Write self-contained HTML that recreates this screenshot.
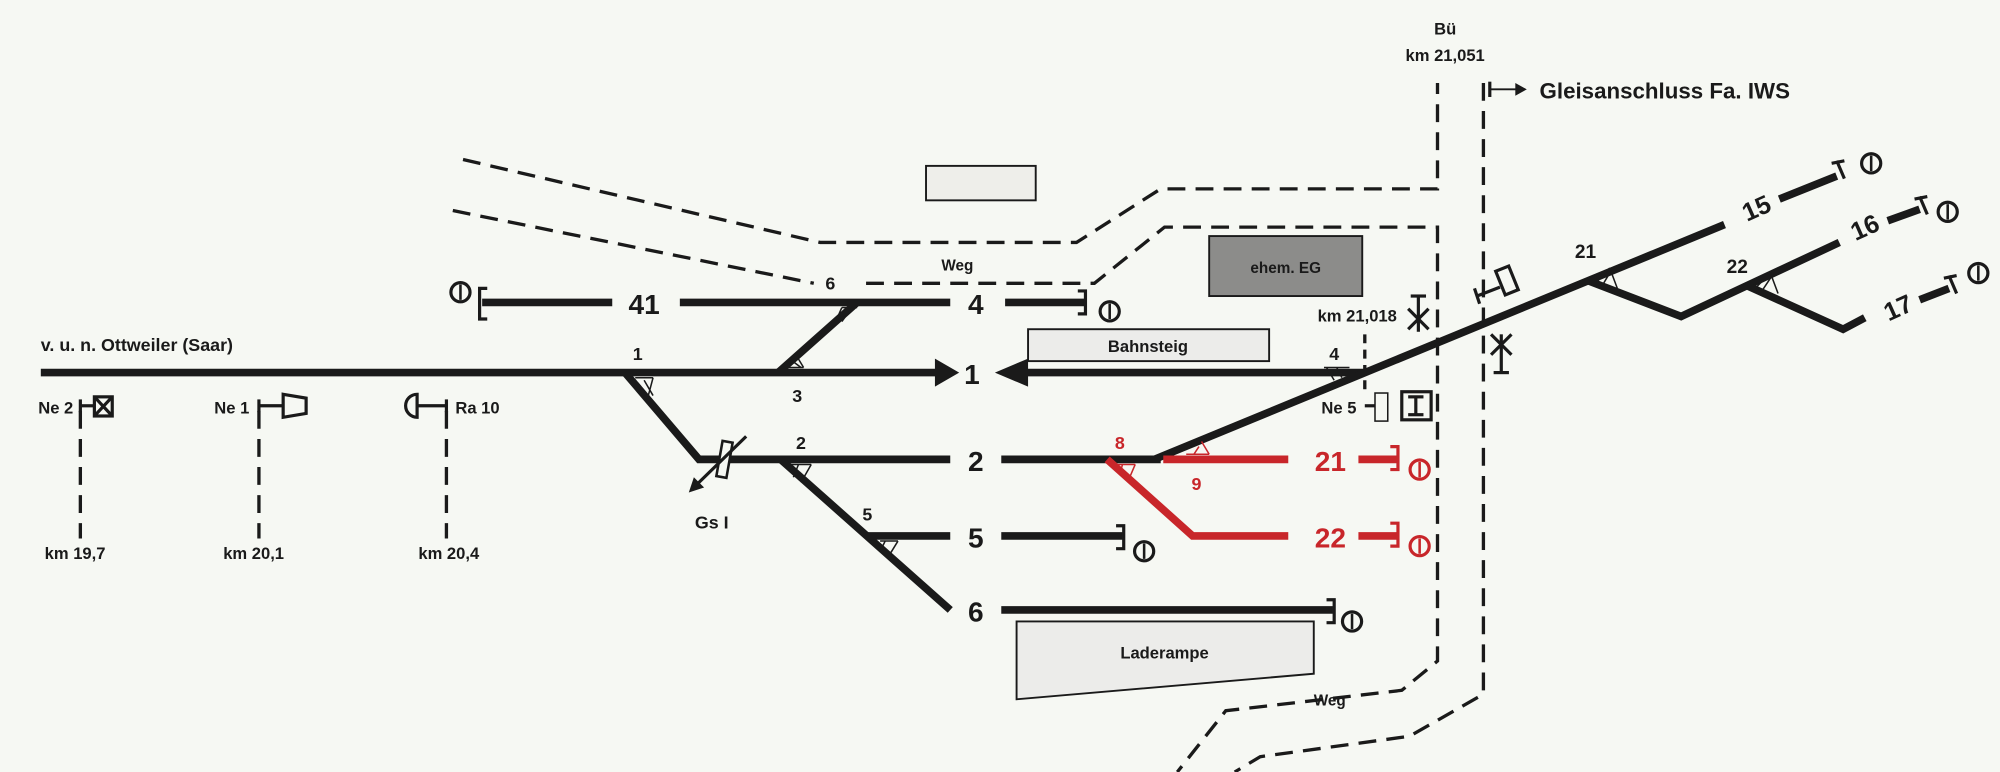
<!DOCTYPE html>
<html><head><meta charset="utf-8"><style>
html,body{margin:0;padding:0;background:#f6f8f3;}
svg{display:block}
text{font-family:"Liberation Sans Narrow","Liberation Sans",sans-serif;font-weight:bold;fill:#1a1a1a}
</style></head><body>
<svg width="2000" height="772" viewBox="0 0 1568 605" preserveAspectRatio="none" xmlns="http://www.w3.org/2000/svg">
<rect width="1568" height="605" fill="#f6f8f3"/>
<defs>
<g id="sig"><circle cx="0" cy="0" r="7.5" fill="none" stroke="#1a1a1a" stroke-width="2.5"/><line x1="0" y1="-6" x2="0" y2="6" stroke="#1a1a1a" stroke-width="2"/></g>
<g id="sigr"><circle cx="0" cy="0" r="7.5" fill="none" stroke="#c8262a" stroke-width="2.5"/><line x1="0" y1="-6" x2="0" y2="6" stroke="#c8262a" stroke-width="2"/></g>
</defs>
<g fill="none" stroke="#1a1a1a" stroke-width="2.6" stroke-dasharray="14,8">
<polyline points="363,125 643,190 844,190 910,148 1127,148 1127,65"/>
<polyline points="355,165 638,222"/>
<polyline points="679,222 858,222 913,178 1127,178 1127,518 1099,541 961,557 923,605"/>
<polyline points="1163,65 1163,544 1105,577 988,593 968,605"/>
<line x1="63" y1="322" x2="63" y2="422"/>
<line x1="203" y1="322" x2="203" y2="422"/>
<line x1="350" y1="322" x2="350" y2="422"/>
<line x1="1070" y1="262" x2="1070" y2="305" stroke-dasharray="7,5"/>
</g>
<rect x="726" y="130" width="86" height="27" fill="#eeeeea" stroke="#1a1a1a" stroke-width="1.5"/>
<rect x="948" y="185" width="120" height="47" fill="#8c8c8a" stroke="#1a1a1a" stroke-width="1.5"/>
<text x="1008" y="214" font-size="12" text-anchor="middle">ehem. EG</text>
<rect x="806" y="258" width="189" height="25" fill="#ececea" stroke="#1a1a1a" stroke-width="1.5"/>
<text x="900" y="276" font-size="13" text-anchor="middle">Bahnsteig</text>
<polygon points="797,487 1030,487 1030,528 797,548" fill="#ececea" stroke="#1a1a1a" stroke-width="1.5"/>
<text x="913" y="516" font-size="13" text-anchor="middle">Laderampe</text>
<g stroke="#1a1a1a" stroke-width="6" fill="none" stroke-linejoin="miter">
<line x1="32" y1="292" x2="736" y2="292"/>
<line x1="800" y1="292" x2="1070" y2="292"/>
<polyline points="490,292 548,360 745,360"/>
<line x1="785" y1="360" x2="910" y2="360"/>
<line x1="610" y1="292" x2="672" y2="237"/>
<line x1="378" y1="237" x2="480" y2="237"/>
<line x1="533" y1="237" x2="745" y2="237"/>
<line x1="788" y1="237" x2="850" y2="237"/>
<line x1="612" y1="360" x2="745" y2="478"/>
<line x1="680" y1="420" x2="745" y2="420"/>
<line x1="785" y1="420" x2="880" y2="420"/>
<line x1="785" y1="478" x2="1045" y2="478"/>
<line x1="905" y1="360" x2="1352" y2="176"/>
<line x1="1395" y1="156" x2="1440" y2="138"/>
<polyline points="1245,220 1318,248 1442,190"/>
<line x1="1480" y1="173" x2="1505" y2="164"/>
<polyline points="1370,224 1445,258 1462,249"/>
<line x1="1505" y1="235" x2="1528" y2="226"/>
</g>
<polygon points="733,281 752,292 733,303" fill="#1a1a1a"/>
<polygon points="780,292 806,281 806,303" fill="#1a1a1a"/>
<g stroke="#c8262a" stroke-width="6" fill="none">
<line x1="912" y1="360" x2="1010" y2="360"/>
<polyline points="868,360 935,420 1010,420"/>
<line x1="1065" y1="360" x2="1095" y2="360"/>
<line x1="1065" y1="420" x2="1095" y2="420"/>
</g>
<g stroke="#1a1a1a" stroke-width="1.2">
<line x1="498" y1="296" x2="512" y2="296"/><line x1="500" y1="300" x2="508" y2="310"/><line x1="505" y1="298" x2="512" y2="310"/><line x1="512" y1="296" x2="508" y2="311"/>
<line x1="616" y1="288" x2="630" y2="288"/><line x1="620" y1="282" x2="628" y2="288"/><line x1="630" y1="288" x2="624" y2="278"/>
<line x1="660" y1="241" x2="672" y2="241"/><line x1="660" y1="241" x2="656" y2="250"/><line x1="668" y1="241" x2="660" y2="252"/>
<line x1="620" y1="364" x2="636" y2="364"/><line x1="636" y1="364" x2="628" y2="378"/><line x1="626" y1="364" x2="622" y2="374"/>
<line x1="690" y1="424" x2="704" y2="424"/><line x1="704" y1="424" x2="696" y2="437"/><line x1="694" y1="424" x2="690" y2="432"/>
<line x1="1038" y1="288" x2="1058" y2="288"/><line x1="1040" y1="288" x2="1046" y2="298"/><line x1="1048" y1="288" x2="1052" y2="296"/>
<line x1="1250" y1="223" x2="1262" y2="210"/><line x1="1262" y1="210" x2="1268" y2="226"/><line x1="1256" y1="224" x2="1262" y2="214"/>
<line x1="1376" y1="226" x2="1388" y2="214"/><line x1="1388" y1="214" x2="1394" y2="230"/><line x1="1382" y1="227" x2="1388" y2="218"/>
</g>
<g stroke="#c8262a" stroke-width="1.2">
<line x1="874" y1="364" x2="890" y2="364"/><line x1="890" y1="364" x2="884" y2="378"/><line x1="880" y1="364" x2="878" y2="372"/>
<line x1="930" y1="356" x2="948" y2="356"/><line x1="948" y1="356" x2="942" y2="346"/><line x1="936" y1="356" x2="940" y2="350"/>
</g>
<g stroke="#1a1a1a" stroke-width="2.5" fill="none">
<polyline points="382,226 376,226 376,250 382,250"/>
<polyline points="845,228 851,228 851,246 845,246"/>
<polyline points="875,412 881,412 881,430 875,430"/>
<polyline points="1040,470 1046,470 1046,488 1040,488"/>
<line x1="1440" y1="126" x2="1446" y2="140"/><line x1="1436" y1="128" x2="1446" y2="126"/>
<line x1="1505" y1="154" x2="1511" y2="168"/><line x1="1501" y1="156" x2="1511" y2="154"/>
<line x1="1528" y1="216" x2="1534" y2="230"/><line x1="1524" y1="218" x2="1534" y2="216"/>
</g>
<use href="#sig" x="361" y="229"/>
<use href="#sig" x="870" y="244"/>
<use href="#sig" x="897" y="432"/>
<use href="#sig" x="1060" y="487"/>
<use href="#sig" x="1467" y="128"/>
<use href="#sig" x="1527" y="166"/>
<use href="#sig" x="1551" y="214"/>
<g stroke="#c8262a" stroke-width="2.5" fill="none">
<polyline points="1090,350 1096,350 1096,368 1090,368"/>
<polyline points="1090,410 1096,410 1096,428 1090,428"/>
</g>
<use href="#sigr" x="1113" y="368"/>
<use href="#sigr" x="1113" y="428"/>
<rect x="564" y="346" width="8" height="28" fill="#f6f8f3" stroke="#1a1a1a" stroke-width="2" transform="rotate(10 568 360)"/>
<line x1="585" y1="342" x2="546" y2="380" stroke="#1a1a1a" stroke-width="2.5"/>
<polygon points="540,386 544,374 552,382" fill="#1a1a1a"/>
<g stroke="#1a1a1a" stroke-width="2.5" fill="none">
<line x1="63" y1="318" x2="74" y2="318"/><line x1="63" y1="313" x2="63" y2="323"/>
<rect x="74" y="311" width="14" height="15"/><line x1="74" y1="311" x2="88" y2="326"/><line x1="88" y1="311" x2="74" y2="326"/>
<line x1="203" y1="318" x2="222" y2="318"/><line x1="203" y1="313" x2="203" y2="323"/>
<polygon points="222,309 240,312 240,324 222,327"/>
<line x1="327" y1="318" x2="350" y2="318"/><line x1="350" y1="313" x2="350" y2="323"/>
<path d="M327,309 A9,9 0 0,0 327,327 Z"/>
<line x1="1112" y1="232" x2="1112" y2="260"/><line x1="1106" y1="232" x2="1118" y2="232"/><line x1="1104" y1="242" x2="1120" y2="258"/><line x1="1120" y1="242" x2="1104" y2="258"/>
<line x1="1177" y1="262" x2="1177" y2="292"/><line x1="1171" y1="292" x2="1183" y2="292"/><line x1="1169" y1="262" x2="1185" y2="278"/><line x1="1185" y1="262" x2="1169" y2="278"/>
<line x1="1158" y1="232" x2="1176" y2="225"/><line x1="1156" y1="226" x2="1160" y2="238"/>
<rect x="1176" y="210" width="11" height="20" transform="rotate(-22 1181 220)"/>
<rect x="1078" y="308" width="10" height="22" stroke-width="1.2"/>
<rect x="1099" y="307" width="23" height="22"/><line x1="1110" y1="311" x2="1110" y2="325"/><line x1="1104" y1="311" x2="1116" y2="311"/><line x1="1104" y1="325" x2="1116" y2="325"/>
<line x1="1070" y1="318" x2="1078" y2="318"/>
<line x1="1168" y1="64" x2="1168" y2="76"/><line x1="1168" y1="70" x2="1190" y2="70" stroke-width="1.5"/>
</g>
<polygon points="1188,65 1197,70 1188,75" fill="#1a1a1a"/>
<text x="32" y="275" font-size="14">v. u. n. Ottweiler (Saar)</text>
<text x="30" y="324" font-size="13">Ne 2</text>
<text x="168" y="324" font-size="13">Ne 1</text>
<text x="357" y="324" font-size="13">Ra 10</text>
<text x="35" y="438" font-size="13">km  19,7</text>
<text x="175" y="438" font-size="13">km  20,1</text>
<text x="328" y="438" font-size="13">km  20,4</text>
<text x="500" y="282" font-size="14" text-anchor="middle">1</text>
<text x="625" y="315" font-size="14" text-anchor="middle">3</text>
<text x="651" y="227" font-size="14" text-anchor="middle">6</text>
<text x="628" y="352" font-size="14" text-anchor="middle">2</text>
<text x="680" y="408" font-size="14" text-anchor="middle">5</text>
<text x="558" y="414" font-size="14" text-anchor="middle">Gs I</text>
<text x="738" y="212" font-size="12">Weg</text>
<text x="1030" y="553" font-size="12">Weg</text>
<text x="505" y="246" font-size="22" font-weight="normal" text-anchor="middle">41</text>
<text x="765" y="246" font-size="22" font-weight="normal" text-anchor="middle">4</text>
<text x="762" y="301" font-size="22" font-weight="normal" text-anchor="middle">1</text>
<text x="765" y="369" font-size="22" font-weight="normal" text-anchor="middle">2</text>
<text x="765" y="429" font-size="22" font-weight="normal" text-anchor="middle">5</text>
<text x="765" y="487" font-size="22" font-weight="normal" text-anchor="middle">6</text>
<text x="1043" y="369" font-size="22" font-weight="normal" text-anchor="middle" style="fill:#c8262a">21</text>
<text x="1043" y="429" font-size="22" font-weight="normal" text-anchor="middle" style="fill:#c8262a">22</text>
<text x="878" y="352" font-size="14" text-anchor="middle" style="fill:#c8262a">8</text>
<text x="938" y="384" font-size="14" text-anchor="middle" style="fill:#c8262a">9</text>
<text x="1046" y="282" font-size="14" text-anchor="middle">4</text>
<text x="1033" y="252" font-size="13">km 21,018</text>
<text x="1036" y="324" font-size="13">Ne 5</text>
<text x="1133" y="27" font-size="13" text-anchor="middle">Bü</text>
<text x="1133" y="48" font-size="13" text-anchor="middle">km 21,051</text>
<text x="1207" y="77" font-size="17.5">Gleisanschluss Fa. IWS</text>
<text x="1243" y="202" font-size="15" text-anchor="middle">21</text>
<text x="1362" y="214" font-size="15" text-anchor="middle">22</text>
<text x="1377" y="170" font-size="20" font-weight="normal" text-anchor="middle" transform="rotate(-24 1377 163)">15</text>
<text x="1462" y="185" font-size="20" font-weight="normal" text-anchor="middle" transform="rotate(-24 1462 178)">16</text>
<text x="1488" y="248" font-size="20" font-weight="normal" text-anchor="middle" transform="rotate(-24 1488 241)">17</text>
</svg>
</body></html>
